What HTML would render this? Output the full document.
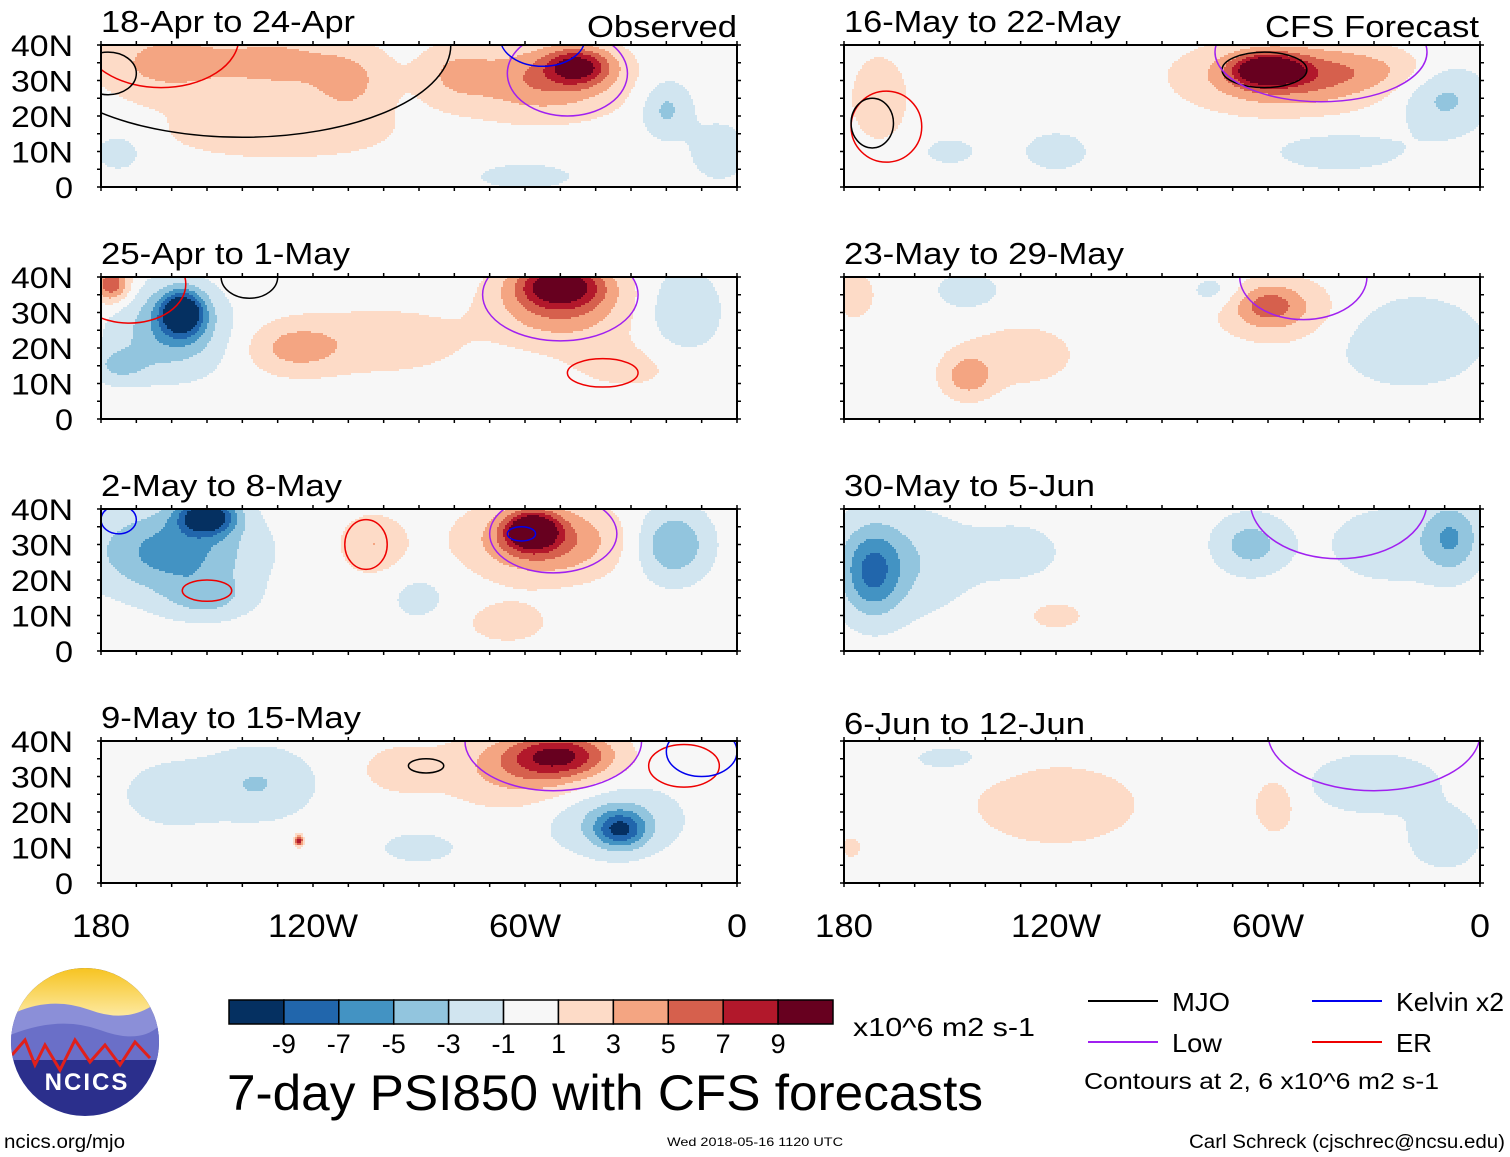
<!DOCTYPE html>
<html><head><meta charset="utf-8">
<style>
html,body{margin:0;padding:0;background:#fff;}
body{width:1510px;height:1157px;position:relative;overflow:hidden;font-family:"Liberation Sans",Arial,sans-serif;color:#000;}
</style></head>
<body>
<svg id="chart" width="1510" height="1157" style="position:absolute;left:0;top:0" xmlns="http://www.w3.org/2000/svg"></svg>

<script>
// ---- data ----
const panelTitles = ["18-Apr to 24-Apr","16-May to 22-May","25-Apr to 1-May","23-May to 29-May","2-May to 8-May","30-May to 5-Jun","9-May to 15-May","6-Jun to 12-Jun"];
const titleWidths = [254,277,249,280,241,251,260,241];
// blobs: [lon, lat, amplitude, rlon, rlat]
const blobs0 = [[-160,35,4,20,10],[-130,35,3.5,15,8],[-110,30,3.5,12,10],[-130,15,2,35,8],[-45,34,8,9,5],[-55,30,5,22,10],[-80,32,2.5,10,8],[-20,22,-3.5,7,8],[-175,10,-2,8,6],[-60,3,-2,15,4],[-5,10,-2.5,8,8]];
const blobs1 = [[-60,33,11,9,4],[-55,31,6,25,9],[-30,33,2,20,6],[-170,25,2.5,8,12],[-10,25,-3.5,12,10],[-40,10,-2,20,6],[-120,10,-2,10,6],[-150,10,-1.5,10,5]];
const blobs2 = [[-157,30,-11,6,6],[-160,25,-5,15,12],[-177,38,7,5,5],[-125,20,3.5,13,7],[-50,38,9,12,6],[-50,32,5,18,10],[-100,22,2,25,10],[-15,30,-3,10,12],[-175,15,-3,8,5],[-30,15,1.5,20,8]];
const blobs3 = [[-177,35,3,5,6],[-145,36,-2,10,6],[-60,32,4.5,10,6],[-55,30,2,20,10],[-145,12,4,7,6],[-130,18,1.8,18,10],[-20,22,-3,20,12],[-75,36,-2,8,5]];
const blobs4 = [[-150,38,-11,8,5],[-160,28,-6,22,12],[-58,34,11,7,5],[-55,31,6,20,10],[-103,30,3,9,8],[-18,30,-5,10,10],[-65,8,2,12,6],[-150,15,-3,12,6],[-90,15,-1.5,10,8]];
const blobs5 = [[-172,22,-5.5,8,12],[-165,25,-3,20,15],[-65,30,-4,10,8],[-8,32,-4.5,8,10],[-25,30,-2,20,12],[-120,10,2,8,4],[-130,28,-1.5,15,10]];
const blobs6 = [[-50,36,7.5,14,6],[-60,32,4,22,10],[-95,32,2.5,10,6],[-33,15,-7,7,5],[-35,18,-3.5,18,10],[-135,28,-3,15,10],[-160,25,-2,15,10],[-124,12,9,1.2,1.5],[-90,10,-1.5,15,6]];
const blobs7 = [[-120,22,2.2,25,12],[-58,22,2.5,6,8],[-178,10,2,3,3],[-30,28,-2,22,10],[-10,12,-2.5,10,8],[-150,35,-1.5,15,5]];
const panelBlobs = [blobs0,blobs1,blobs2,blobs3,blobs4,blobs5,blobs6,blobs7];
// contour ellipses: [lon, lat, rlon, rlat, type]
const contours0 = [[-48,32,17,12,"low"],[-55,42,12,8,"kelvin"],[-163,42,22,14,"er"],[-178,32,8,6,"mjo"],[-140,40,59,26,"mjo"]];
const contours1 = [[-61,33,12,5,"mjo"],[-45,38,30,14,"low"],[-168,17,10,10,"er"],[-172,18,6,7,"mjo"]];
const contours2 = [[-50,35,22,13,"low"],[-38,13,10,4,"er"],[-172,38,16,11,"er"],[-138,40,8,6,"mjo"]];
const contours3 = [[-50,40,18,12,"low"]];
const contours4 = [[-52,33,18,11,"low"],[-61,33,4,2,"kelvin"],[-105,30,6,7,"er"],[-150,17,7,3,"er"],[-175,37,5,4,"kelvin"]];
const contours5 = [[-40,42,25,16,"low"]];
const contours6 = [[-52,40,25,14,"low"],[-88,33,5,2,"mjo"],[-15,33,10,6,"er"],[-10,37,10,7,"kelvin"]];
const contours7 = [[-30,42,30,16,"low"]];
const panelContours = [contours0,contours1,contours2,contours3,contours4,contours5,contours6,contours7];
const levels = [-9,-7,-5,-3,-1,1,3,5,7,9];
const levelColors = ["#053061","#2166ac","#4393c3","#92c5de","#d1e5f0","#f7f7f7","#fddbc7","#f4a582","#d6604d","#b2182b","#67001f"];
const cbLabels = ["-9","-7","-5","-3","-1","1","3","5","7","9"];
const latTicks = [40,30,20,10,0];
const latLabels = ["40N","30N","20N","10N","0"];
const lonTicks = [-180,-120,-60,0];
const lonLabels = ["180","120W","60W","0"];
const legendItems = [["MJO","#000"],["Kelvin x2","#0000ee"],["Low","#a020f0"],["ER","#ee0000"]];
const contourColors = {mjo:"#000",kelvin:"#0000ee",low:"#a020f0",er:"#ee0000"};

// ---- drawing ----
const NS="http://www.w3.org/2000/svg";
const svg=document.getElementById('chart');
const defs=document.createElementNS(NS,'defs');svg.appendChild(defs);
function mk(tag,attrs,parent){const e=document.createElementNS(NS,tag);for(const k in attrs)e.setAttribute(k,attrs[k]);(parent||svg).appendChild(e);return e;}
function txt(x,y,s,size,w,anchor,name){
  const a={x:x,y:y,'font-size':size,'font-family':'Liberation Sans, sans-serif','text-anchor':anchor||'start'};
  if(w){a.textLength=w;a.lengthAdjust='spacingAndGlyphs';}
  const t=mk('text',a);t.textContent=s;
  
  
  return t;
}
const PW=636, PH=142;
const colX=[101,844], rowY=[45,277,509,741];
function colorFor(v){let i=0;while(i<levels.length&&v>levels[i])i++;return levelColors[i];}

panelBlobs.forEach((bl,p)=>{
  const px=colX[p%2], py=rowY[Math.floor(p/2)];
  const xS=lon=>px+(lon+180)/180*PW;
  const yS=lat=>py+PH-lat/40*PH;
  const cp=mk('clipPath',{id:'clip'+p},defs);
  mk('rect',{x:px,y:py,width:PW,height:PH},cp);
  const g=mk('g',{'clip-path':'url(#clip'+p+')'});
  
  
  const cs=2;
  for(let yy=0;yy<PH;yy+=cs){
    const lat=40-(yy+cs/2)/PH*40;
    let runStart=0,runCol=null;
    for(let xx=0;xx<=PW;xx+=cs){
      let col=null;
      if(xx<PW){
        const lon=-180+(xx+cs/2)/PW*180;
        let v=0;bl.forEach(b=>{const dx=(lon-b[0])/b[3],dy=(lat-b[1])/b[4];v+=b[2]*Math.exp(-(dx*dx+dy*dy));});
        col=colorFor(v);
      }
      if(col!==runCol){
        if(runCol!==null){
          const r=mk('rect',{x:px+runStart,y:py+yy,width:Math.min(xx,PW)-runStart,height:cs+0.3,fill:runCol},g);
          
          
        }
        runStart=xx;runCol=col;
      }
    }
  }
  panelContours[p].forEach(c=>{
    const e=mk('ellipse',{cx:xS(c[0]),cy:yS(c[1]),rx:c[2]/180*PW,ry:c[3]/40*PH,fill:'none',stroke:contourColors[c[4]],'stroke-width':1.5},g);
    
    
  });
  const fr=mk('rect',{x:px,y:py,width:PW,height:PH,fill:'none',stroke:'#000','stroke-width':2});
  
  
  for(let lon=-180;lon<=0;lon+=10){
    mk('line',{x1:xS(lon),x2:xS(lon),y1:py,y2:py-4,stroke:'#000','stroke-width':1.5});
    mk('line',{x1:xS(lon),x2:xS(lon),y1:py+PH,y2:py+PH+4,stroke:'#000','stroke-width':1.5});
  }
  for(let lat=0;lat<=40;lat+=5){
    mk('line',{x1:px,x2:px-4,y1:yS(lat),y2:yS(lat),stroke:'#000','stroke-width':1.5});
    mk('line',{x1:px+PW,x2:px+PW+4,y1:yS(lat),y2:yS(lat),stroke:'#000','stroke-width':1.5});
  }
  txt(px,py-13+(p===7?6:0),panelTitles[p],31,titleWidths[p],'start','panel-title');
  if(p%2===0){
    latTicks.forEach((lat,i)=>{
      txt(73,yS(lat)+11,latLabels[i],30,latLabels[i].length>1?62:18,'end','lat-tick-label');
    });
  }
  if(p>=6){
    lonTicks.forEach((lon,i)=>{
      const w=[58,90,72,20][i];
      txt(xS(lon),937,lonLabels[i],32,w,'middle','lon-tick-label');
    });
  }
});
txt(737,37,'Observed',31,150,'end','observed-label');
txt(1479,37,'CFS Forecast',31,214,'end','forecast-label');

// colorbar
const cbX=229,cbY=1000,cbW=604/11,cbH=24;
levelColors.forEach((c,i)=>{
  const r=mk('rect',{x:cbX+i*cbW,y:cbY,width:cbW,height:cbH,fill:c,stroke:'#000','stroke-width':1.5});
  
  
});
cbLabels.forEach((s,i)=>{
  txt(cbX+(i+1)*cbW,1053,s,27,null,'middle','colorbar-label');
});
txt(853,1036,'x10^6 m2 s-1',26,182,'start','colorbar-units');
txt(227,1110,'7-day PSI850 with CFS forecasts',50,756,'start','main-title');
txt(1084,1089,'Contours at 2, 6 x10^6 m2 s-1',23,355,'start','contour-note');
txt(4,1148,'ncics.org/mjo',19,121,'start','ncics-url');
txt(667,1146,'Wed 2018-05-16 1120 UTC',12,176,'start','timestamp');
txt(1189,1148,'Carl Schreck (cjschrec@ncsu.edu)',19,316,'start','author-credit');
// legend
legendItems.forEach((it,i)=>{
  const lx=i%2===0?1088:1312, ly=i<2?1001:1042;
  const ln=mk('line',{x1:lx,x2:lx+70,y1:ly,y2:ly,stroke:it[1],'stroke-width':2});
  
  
  txt(lx+84,ly+10,it[0],26,[58,108,50,36][i],'start','legend-entry');
});
// logo
const lg=mk('g',{});


defs.innerHTML+='<clipPath id="lc"><circle cx="85" cy="1042" r="74"/></clipPath><linearGradient id="sky" x1="0" y1="0" x2="0" y2="1"><stop offset="0" stop-color="#f6c21c"/><stop offset="1" stop-color="#fde9a0"/></linearGradient>';
mk('circle',{cx:85,cy:1042,r:74,fill:'#2b2f8c'},lg);
const cg=mk('g',{'clip-path':'url(#lc)'},lg);
mk('rect',{x:10,y:966,width:150,height:50,fill:'url(#sky)'},cg);
mk('path',{d:'M10 1015 Q50 995 90 1010 T160 1000 L160 1040 L10 1040Z',fill:'#8b8fd8'},cg);
mk('path',{d:'M10 1035 Q60 1015 100 1030 T160 1025 L160 1060 L10 1060Z',fill:'#6a6fc8'},cg);
mk('path',{d:'M12 1055 L25 1040 L35 1065 L45 1045 L60 1070 L75 1040 L90 1062 L105 1045 L120 1065 L135 1042 L150 1058',fill:'none',stroke:'#e0201b','stroke-width':3},cg);
const nt=mk('text',{x:87,y:1090,'font-size':24,'font-weight':'bold','fill':'#fff','text-anchor':'middle','font-family':'Liberation Sans, sans-serif','letter-spacing':2},lg);
nt.textContent='NCICS';


</script>
</body></html>
